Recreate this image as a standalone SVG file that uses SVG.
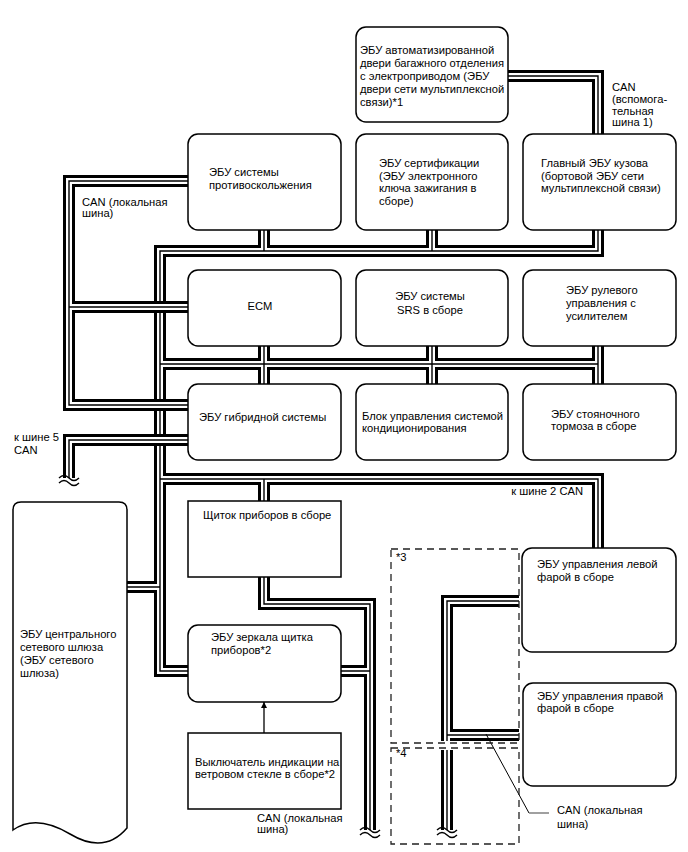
<svg xmlns="http://www.w3.org/2000/svg" xmlns:xlink="http://www.w3.org/1999/xlink" width="688" height="852" viewBox="0 0 688 852">
<style>
.b0{fill:none;stroke:#000;stroke-width:12;stroke-linejoin:miter}
.b1{fill:none;stroke:#fff;stroke-width:6;stroke-linejoin:miter}
.b2{fill:none;stroke:#000;stroke-width:1.4;stroke-linejoin:miter}
.box{fill:#fff;stroke:#000;stroke-width:1.5}
.t{font-family:"Liberation Sans",Arial,sans-serif;font-size:11.2px;fill:#000}
.dash{fill:none;stroke:#222;stroke-width:1.3;stroke-dasharray:7 5}
.sq{fill:none;stroke:#000;stroke-width:1.4}
</style>
<defs>
<path id="busV" d="M188,671 H160 V251 H598 V230 M264,230 V251 M432,230 V251 M160,364 H598 M264,346 V384 M432,346 V384 M598,346 V384 M160,479 H598 V550 M264,479 V503 M125,587 H160"/>
<path id="busH" d="M190,181 H69 V405 H190 M69,307 H190 M190,440 H69 V478"/>
<path id="busDoor" d="M506,76 H598 V136"/>
<path id="busLoc" d="M264,575 V604 H370 V830 M339,671 H370"/>
<path id="busHL" d="M519,601 H447 V830 M447,735 H519"/>
<marker id="arr" viewBox="0 0 10 10" refX="10" refY="5" markerWidth="6" markerHeight="8" markerUnits="userSpaceOnUse" orient="auto"><path d="M0,0 L10,5 L0,10 z" fill="#000"/></marker>
</defs>

<g id="connectors">
<use xlink:href="#busV" class="b0"/><use xlink:href="#busV" class="b1"/><use xlink:href="#busV" class="b2"/>
<use xlink:href="#busH" class="b0"/><use xlink:href="#busH" class="b1"/><use xlink:href="#busH" class="b2"/>
<use xlink:href="#busDoor" class="b0"/><use xlink:href="#busDoor" class="b1"/><use xlink:href="#busDoor" class="b2"/>
<use xlink:href="#busLoc" class="b0"/><use xlink:href="#busLoc" class="b1"/><use xlink:href="#busLoc" class="b2"/>
<use xlink:href="#busHL" class="b0"/><use xlink:href="#busHL" class="b1"/><use xlink:href="#busHL" class="b2"/>
<rect x="439" y="741" width="16" height="9" fill="#fff"/>
<path class="sq" d="M59,478 q5,-5 10,0 t10,0 M59,483 q5,-5 10,0 t10,0"/>
<path class="sq" d="M360,830 q5,-5 10,0 t10,0 M360,835 q5,-5 10,0 t10,0"/>
<path class="sq" d="M437,830 q5,-5 10,0 t10,0 M437,835 q5,-5 10,0 t10,0"/>
<line x1="264" y1="733" x2="264" y2="702" stroke="#000" stroke-width="1.3" marker-end="url(#arr)"/>
<path d="M486,734 L529,813" fill="none" stroke="#000" stroke-width="1"/>
<path d="M529,813 H549" fill="none" stroke="#888" stroke-width="1.6"/>
</g>

<g id="door-ecu"><rect class="box" x="356" y="27" width="152" height="95" rx="10"/>
<text class="t" x="360" y="54">ЭБУ автоматизированной</text>
<text class="t" x="360" y="67">двери багажного отделения</text>
<text class="t" x="360" y="80">с электроприводом (ЭБУ</text>
<text class="t" x="360" y="93">двери сети мультиплексной</text>
<text class="t" x="360" y="106">связи)*1</text></g>

<g id="antiskid"><rect class="box" x="188" y="134" width="153" height="96" rx="10"/>
<text class="t" x="209" y="176">ЭБУ системы</text>
<text class="t" x="209" y="189">противоскольжения</text></g>

<g id="cert"><rect class="box" x="356" y="134" width="152" height="96" rx="10"/>
<text class="t" x="379" y="167">ЭБУ сертификации</text>
<text class="t" x="379" y="180">(ЭБУ электронного</text>
<text class="t" x="379" y="192">ключа зажигания в</text>
<text class="t" x="379" y="205">сборе)</text></g>

<g id="body"><rect class="box" x="523" y="134" width="153" height="96" rx="10"/>
<text class="t" x="541" y="167">Главный ЭБУ кузова</text>
<text class="t" x="541" y="180">(бортовой ЭБУ сети</text>
<text class="t" x="541" y="192">мультиплексной связи)</text></g>

<g id="ecm"><rect class="box" x="188" y="270" width="153" height="76" rx="10"/>
<text class="t" x="260" y="310" text-anchor="middle">ECM</text></g>

<g id="srs"><rect class="box" x="356" y="270" width="152" height="76" rx="10"/>
<text class="t" x="430" y="300" text-anchor="middle">ЭБУ системы</text>
<text class="t" x="430" y="314" text-anchor="middle">SRS в сборе</text></g>

<g id="steering"><rect class="box" x="523" y="270" width="153" height="76" rx="10"/>
<text class="t" x="566" y="294">ЭБУ рулевого</text>
<text class="t" x="566" y="307">управления с</text>
<text class="t" x="566" y="320">усилителем</text></g>

<g id="hybrid"><rect class="box" x="188" y="384" width="153" height="76" rx="10"/>
<text class="t" x="199" y="421">ЭБУ гибридной системы</text></g>

<g id="ac"><rect class="box" x="356" y="384" width="152" height="76" rx="10"/>
<text class="t" x="362" y="420">Блок управления системой</text>
<text class="t" x="362" y="432">кондиционирования</text></g>

<g id="parking"><rect class="box" x="523" y="384" width="153" height="76" rx="10"/>
<text class="t" x="551" y="418">ЭБУ стояночного</text>
<text class="t" x="551" y="430">тормоза в сборе</text></g>

<g id="cluster"><rect class="box" x="188" y="501" width="153" height="76"/>
<text class="t" x="203" y="519">Щиток приборов в сборе</text></g>

<g id="mirror"><rect class="box" x="188" y="625" width="153" height="77" rx="10"/>
<text class="t" x="211" y="641">ЭБУ зеркала щитка</text>
<text class="t" x="211" y="654">приборов*2</text></g>

<g id="hud-switch"><rect class="box" x="188" y="733" width="153" height="76"/>
<text class="t" x="195" y="766">Выключатель индикации на</text>
<text class="t" x="195" y="778">ветровом стекле в сборе*2</text></g>

<g id="gateway"><path class="box" d="M13,510 Q13,502 21,502 H119 Q127,502 127,510 V828 C110,848 90,846 70,834 C50,822 30,818 13,830 Z"/>
<text class="t" x="20" y="638">ЭБУ центрального</text>
<text class="t" x="20" y="651">сетевого шлюза</text>
<text class="t" x="20" y="664">(ЭБУ сетевого</text>
<text class="t" x="20" y="677">шлюза)</text></g>

<g id="hl-left"><rect class="box" x="522" y="548" width="154" height="104" rx="10"/>
<text class="t" x="537" y="568">ЭБУ управления левой</text>
<text class="t" x="537" y="581">фарой в сборе</text></g>

<g id="hl-right"><rect class="box" x="523" y="683" width="153" height="103" rx="10"/>
<text class="t" x="537" y="700">ЭБУ управления правой</text>
<text class="t" x="537" y="712">фарой в сборе</text></g>

<g id="opt3"><rect class="dash" x="391" y="549" width="128" height="194"/>
<text class="t" x="396" y="561">*3</text></g>
<g id="opt4"><rect class="dash" x="391" y="748" width="128" height="96"/>
<text class="t" x="396" y="757">*4</text></g>

<g id="labels">
<text class="t" x="612" y="91">CAN</text>
<text class="t" x="612" y="103">(вспомога-</text>
<text class="t" x="612" y="115">тельная</text>
<text class="t" x="612" y="126">шина 1)</text>
<text class="t" x="82" y="206">CAN (локальная</text>
<text class="t" x="82" y="217">шина)</text>
<text class="t" x="14" y="441">к шине 5</text>
<text class="t" x="14" y="454">CAN</text>
<text class="t" x="583" y="495" text-anchor="end">к шине 2 CAN</text>
<text class="t" x="257" y="822">CAN (локальная</text>
<text class="t" x="257" y="833">шина)</text>
<text class="t" x="557" y="814">CAN (локальная</text>
<text class="t" x="557" y="828">шина)</text>
</g>
</svg>
